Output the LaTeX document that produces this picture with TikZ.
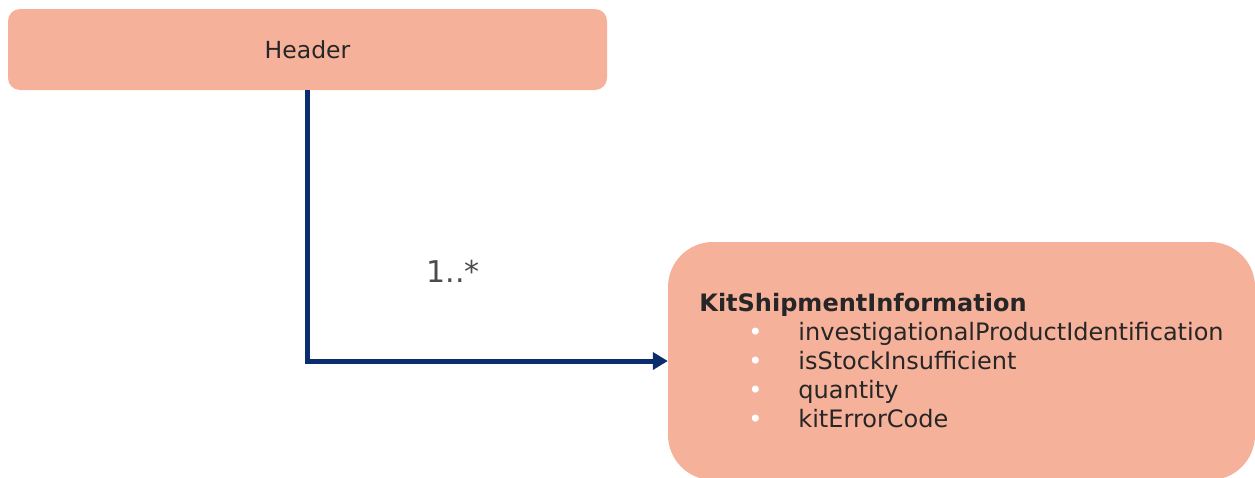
\documentclass[tikz,border=0pt]{standalone}
\usepackage{fontspec}
\setmainfont{DejaVu Sans}
\usetikzlibrary{arrows.meta}
\usetikzlibrary{positioning}
\definecolor{salmon}{RGB}{246,177,154}
\definecolor{navy}{RGB}{10,45,110}
\definecolor{ink}{RGB}{38,38,38}

\begin{document}
\begin{tikzpicture}
[x=1pt,y=-1pt,every node/.style={font=\fontsize{24}{29}\selectfont,text=ink},
  assoc/.style = {-{Triangle[length=15pt,width=17pt]},line width=5pt,draw=navy},
  cls/.style = {rectangle,fill=salmon,inner sep=0pt},
  mult/.style = {font=\fontsize{30}{32}\selectfont,text=black!70}]
%[bullet/.style={text=white}]

\useasboundingbox (0,0) rectangle (1255,477);

\node[cls,rounded corners=12pt,minimum width=599pt,minimum height=81pt,
      font=\fontsize{23.5}{29}\selectfont] (header) at (307.5,49.5) {Header};
   \node[cls,rounded corners=45pt,minimum width=587pt,minimum height=238pt,
         align=left] (kit) at (961.5,361)
   {\textbf{KitShipmentInformation}\\
    \hspace*{56pt}\makebox[0pt]{\textcolor{white}{•}}\hspace*{43pt}investigationalProductIdentification\hspace*{4pt}\\
    \hspace*{56pt}\makebox[0pt]{\textcolor{white}{•}}\hspace*{43pt}isStockInsufficient\\
    \hspace*{56pt}\makebox[0pt]{\textcolor{white}{•}}\hspace*{43pt}quantity\\
    \hspace*{56pt}\makebox[0pt]{\textcolor{white}{•}}\hspace*{43pt}kitErrorCode};

   \path[assoc] (header.south) |- (kit.west);
   \node[mult] (mult-one) at (453,271) {1..*};
%
%\node (x) at (307,362) {};
\end{tikzpicture}
\end{document}
